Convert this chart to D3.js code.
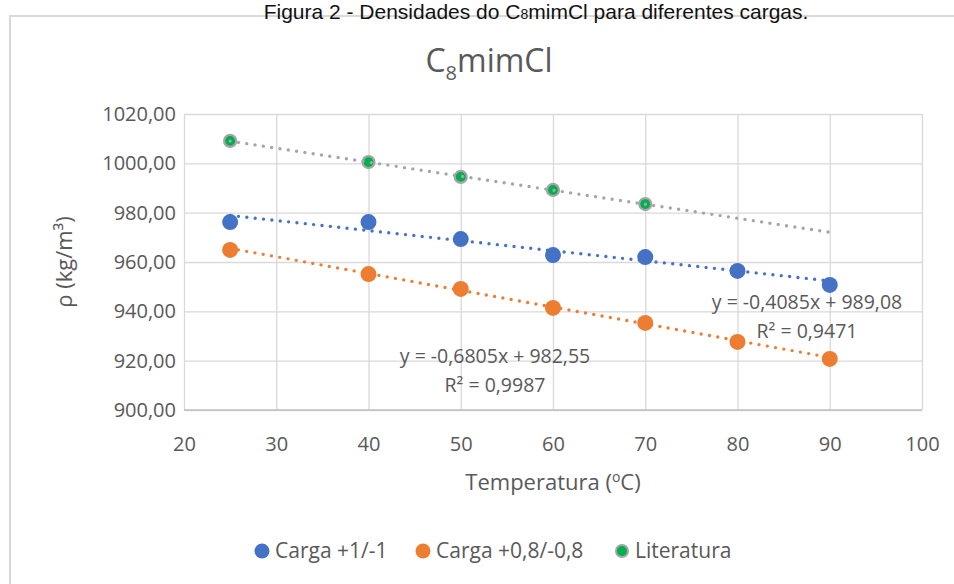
<!DOCTYPE html>
<html>
<head>
<meta charset="utf-8">
<script src="https://cdn.jsdelivr.net/npm/d3@7"></script>
<style>
  body { margin: 0; background: #fff; }
  text { font-family: "Open Sans", sans-serif; fill: #595959; }
</style>
</head>
<body>
<div id="chart"></div>
<script>

// data
var temps = [25, 40, 50, 60, 70, 80, 90];
var carga1 = [976.2, 976.2, 969.3, 962.8, 962.0, 956.4, 950.7];
var carga08 = [964.9, 955.1, 949.1, 941.4, 935.3, 927.6, 920.7];
var litTemps = [25, 40, 50, 60, 70];
var literatura = [1009.1, 1000.5, 994.5, 989.2, 983.5];

var xTicks = [20, 30, 40, 50, 60, 70, 80, 90, 100];
var yTicks = [900, 920, 940, 960, 980, 1000, 1020];

// trendline coefficients shown on the chart
var fit1 = {slope: -0.4085, icpt: 989.08, eq: "y = -0,4085x + 989,08", r2: "R² = 0,9471"};
var fit08 = {slope: -0.6805, icpt: 982.55, eq: "y = -0,6805x + 982,55", r2: "R² = 0,9987"};

var seriesNames = ["Carga +1/-1", "Carga +0,8/-0,8", "Literatura"];
var colors = ["#4472c4", "#ed7d31", "#00b050"];

var W = 954, H = 584;
var margin = {top: 114, right: 32, bottom: 174, left: 184},
    width = W - margin.left - margin.right,
    height = H - margin.top - margin.bottom;

var svg = d3.select("#chart").append("svg")
    .attr("width", W)
    .attr("height", H);

// chart border
svg.append("rect")
  .attr("x", 10).attr("y", 16)
  .attr("width", 980).attr("height", 600)
  .attr("fill", "none")
  .attr("stroke", "#d9d9d9")
  .attr("stroke-width", 2);

// caption above the chart
var cap = svg.append("text")
  .attr("x", 536).attr("y", 19)
  .attr("text-anchor", "middle")
  .style("font-family", "'Liberation Sans', Arial, sans-serif")
  .style("font-size", "21px")
  .style("fill", "#111");
cap.append("tspan").text("Figura 2 - Densidades do C");
cap.append("tspan").attr("font-size", "14px").text("8");
cap.append("tspan").text("mimCl para diferentes cargas.");

// title
var title = svg.append("text")
  .attr("x", 489).attr("y", 72)
  .attr("text-anchor", "middle")
  .style("font-size", "32px");
title.append("tspan").text("C");
title.append("tspan").attr("font-size", "20px").attr("dy", 8).text("8");
title.append("tspan").attr("dy", -8).text("mimCl");

var g = svg.append("g")
  .attr("transform", "translate(" + margin.left + "," + margin.top + ")");

var x = d3.scaleLinear().domain([20, 100]).range([0, width]);
var y = d3.scaleLinear().domain([900, 1020]).range([height, 0]);

// gridlines
g.append("g")
  .call(d3.axisLeft(y).tickValues(yTicks).tickSize(-width).tickFormat(""))
  .call(function(s) { s.select(".domain").remove(); })
  .selectAll("line").attr("stroke", "#d9d9d9").attr("stroke-width", 1.3);

g.append("g")
  .attr("transform", "translate(0," + height + ")")
  .call(d3.axisBottom(x).tickValues(xTicks).tickSize(-height).tickFormat(""))
  .call(function(s) { s.select(".domain").remove(); })
  .selectAll("line").attr("stroke", "#d9d9d9").attr("stroke-width", 1.3);

// bottom axis line
g.append("line")
  .attr("x1", 0).attr("x2", width)
  .attr("y1", height).attr("y2", height)
  .attr("stroke", "#bfbfbf").attr("stroke-width", 1.5);

// tick labels
var fmt = function(d) { return d3.format(".2f")(d).replace(".", ","); };
g.append("g")
  .call(d3.axisLeft(y).tickValues(yTicks).tickSize(0).tickPadding(8).tickFormat(fmt))
  .call(function(s) { s.select(".domain").remove(); })
  .selectAll("text")
  .style("font-size", "20px").attr("fill", "#595959")
  .style("font-family", "'Open Sans', sans-serif");

g.append("g")
  .attr("transform", "translate(0," + height + ")")
  .call(d3.axisBottom(x).tickValues(xTicks).tickSize(0).tickPadding(27).tickFormat(d3.format("d")))
  .call(function(s) { s.select(".domain").remove(); })
  .selectAll("text")
  .style("font-size", "20px").attr("fill", "#595959")
  .style("font-family", "'Open Sans', sans-serif");

// axis titles
var xt = svg.append("text")
  .attr("x", margin.left + width / 2).attr("y", 490)
  .attr("text-anchor", "middle")
  .style("font-size", "22px");
xt.append("tspan").text("Temperatura (");
xt.append("tspan").attr("font-size", "14px").attr("dy", -8).text("o");
xt.append("tspan").attr("dy", 8).text("C)");

svg.append("text")
  .attr("transform", "translate(72," + (margin.top + height / 2) + ") rotate(-90)")
  .attr("text-anchor", "middle")
  .style("font-size", "22px")
  .text("ρ (kg/m³)");

// markers
function dots(xs, ys, color, r, stroke) {
  g.append("g").selectAll("circle")
    .data(xs.map(function(d, i) { return [d, ys[i]]; }))
    .join("circle")
      .attr("cx", function(d) { return x(d[0]); })
      .attr("cy", function(d) { return y(d[1]); })
      .attr("r", r)
      .attr("fill", color)
      .attr("stroke", stroke || "none")
      .attr("stroke-width", stroke ? 2.2 : 0);
}
dots(temps, carga1, colors[0], 8);
dots(temps, carga08, colors[1], 8);
dots(litTemps, literatura, colors[2], 6, "#a5a5a5");

// least squares for the literature trendline (no equation shown)
var mx = d3.mean(litTemps), my = d3.mean(literatura);
var sxy = d3.sum(litTemps, function(d, i) { return (d - mx) * (literatura[i] - my); });
var sxx = d3.sum(litTemps, function(d) { return (d - mx) * (d - mx); });
var fitLit = {slope: sxy / sxx, icpt: my - (sxy / sxx) * mx};

// trendlines, dotted, drawn over the markers
function trend(f, x0, x1, color) {
  g.append("line")
    .attr("x1", x(x0)).attr("y1", y(f.slope * x0 + f.icpt))
    .attr("x2", x(x1)).attr("y2", y(f.slope * x1 + f.icpt))
    .attr("stroke", color)
    .attr("stroke-width", 3.4)
    .attr("stroke-linecap", "round")
    .attr("stroke-dasharray", "0 8.4");
}
trend(fitLit, 25, 90, "#a5a5a5");
trend(fit1, 25, 90, colors[0]);
trend(fit08, 25, 90, colors[1]);

// equation labels
function eqLabel(f, cx, cy) {
  svg.append("text").attr("x", cx).attr("y", cy)
    .attr("text-anchor", "middle").style("font-size", "19.5px").text(f.eq);
  svg.append("text").attr("x", cx).attr("y", cy + 29)
    .attr("text-anchor", "middle").style("font-size", "19.5px").text(f.r2);
}
eqLabel(fit1, 807, 309);
eqLabel(fit08, 495, 363);

// legend
var legX = [262, 423, 622];
var leg = svg.append("g");
seriesNames.forEach(function(name, i) {
  leg.append("circle")
    .attr("cx", legX[i]).attr("cy", 551)
    .attr("r", i == 2 ? 6 : 7.5)
    .attr("fill", colors[i])
    .attr("stroke", i == 2 ? "#a5a5a5" : "none")
    .attr("stroke-width", i == 2 ? 2 : 0);
  leg.append("text")
    .attr("x", legX[i] + 13).attr("y", 558)
    .style("font-size", "21px")
    .text(name);
});

</script>
</body>
</html>
